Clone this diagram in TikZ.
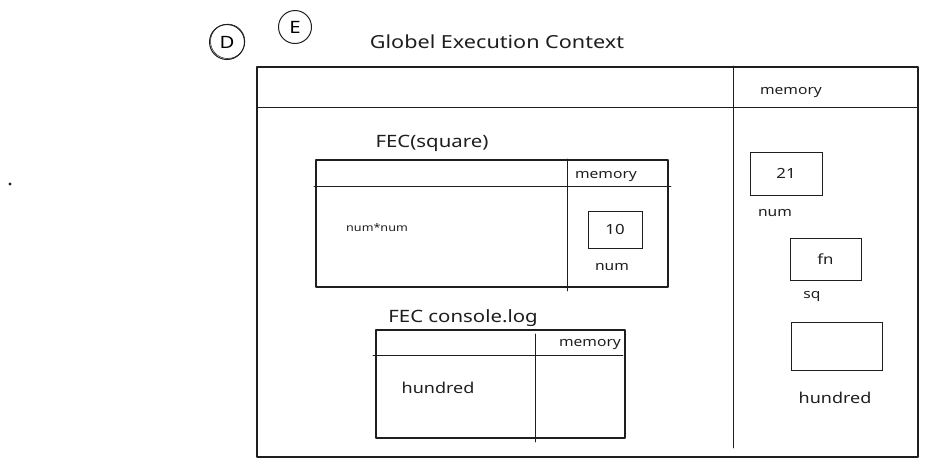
\documentclass[tikz,border=0pt]{standalone}
\usepackage{fontspec}
\setmainfont{Noto Sans}[FakeStretch=1.2]
\definecolor{ink}{HTML}{1E1E1E}
\begin{document}
\begin{tikzpicture}[x=1pt,y=-1pt,
  line/.style={draw=ink,line width=1.1pt,line cap=round,line join=round},
  thin/.style={draw=ink,line width=0.8pt,line cap=round},
  box/.style={draw=ink,line width=1pt,rectangle,inner sep=0pt},
  lbl/.style={text=ink,inner sep=0pt,font=\fontsize{13}{15}\selectfont},
  word/.style={text=ink,inner sep=0pt,font=\fontsize{15}{17}\selectfont},
  val/.style={text=ink,inner sep=0pt,font=\fontsize{14}{16}\selectfont},
  title/.style={text=ink,inner sep=0pt,font=\fontsize{18}{21}\selectfont},
  small/.style={text=ink,inner sep=0pt,font=\fontsize{13}{15}\selectfont},
  letter/.style={circle,draw=ink,line width=1pt,inner sep=0pt,
                 font=\fontsize{17}{18}\selectfont}]
\useasboundingbox (0,0) rectangle (934,467);

% stray dot
\fill[ink] (10,184) circle (1.6);

% lettered circles
\node[letter,minimum size=35pt] (d) at (227,42) {D};
\draw[ink,line width=0.5pt] (227.7,41.3) circle (17.2);
\node[letter,minimum size=33pt] (e) at (295,27) {E};

\node[title] (gec) at (497,42) {Globel Execution Context};

% global execution context frame
\draw[line] (257,67) rectangle (918,457);
\draw[thin] (257,107) -- (918,107);
\draw[thin] (733,66) -- (733,448);
\node[lbl] (gmem) at (791,93) {memory};

% global memory
\node[box,minimum width=72pt,minimum height=43pt] (b21) at (786,173.5) {};
\node[val] at (b21) {21};
\node[small] (gnum) at (775,213) {num};
\node[box,minimum width=71pt,minimum height=42pt] (bfn) at (825.5,259) {};
\node[val] at (bfn) {fn};
\node[small] (gsq) at (812,297) {sq};
\node[box,minimum width=91pt,minimum height=48pt] (bhun) at (836.5,346) {};
\node[word] (ghun) at (835,398) {hundred};

% function execution context: square
\node[title,font=\fontsize{17}{19}\selectfont] (fsq) at (432,143) {FEC(square)};
\draw[line] (316,160) rectangle (668,287);
\draw[thin] (314,186) -- (671,186);
\draw[thin] (567,159) -- (567,291);
\node[lbl] (smem) at (606,177) {memory};
\node[small,font=\fontsize{10.5}{12}\selectfont] (sexpr) at (377,228) {num*num};
\node[box,minimum width=54pt,minimum height=37pt] (b10) at (615,229.5) {};
\node[val] at (b10) {10};
\node[small] (snum) at (612,267) {num};

% function execution context: console.log
\node[title,font=\fontsize{17}{19}\selectfont] (fcl) at (463,318) {FEC console.log};
\draw[line] (376,330) rectangle (625,438);
\draw[thin] (373,355) -- (623,355);
\draw[thin] (535,334) -- (535,442);
\node[lbl] (cmem) at (590,345) {memory};
\node[word] (chun) at (438,388) {hundred};
\end{tikzpicture}
\end{document}
